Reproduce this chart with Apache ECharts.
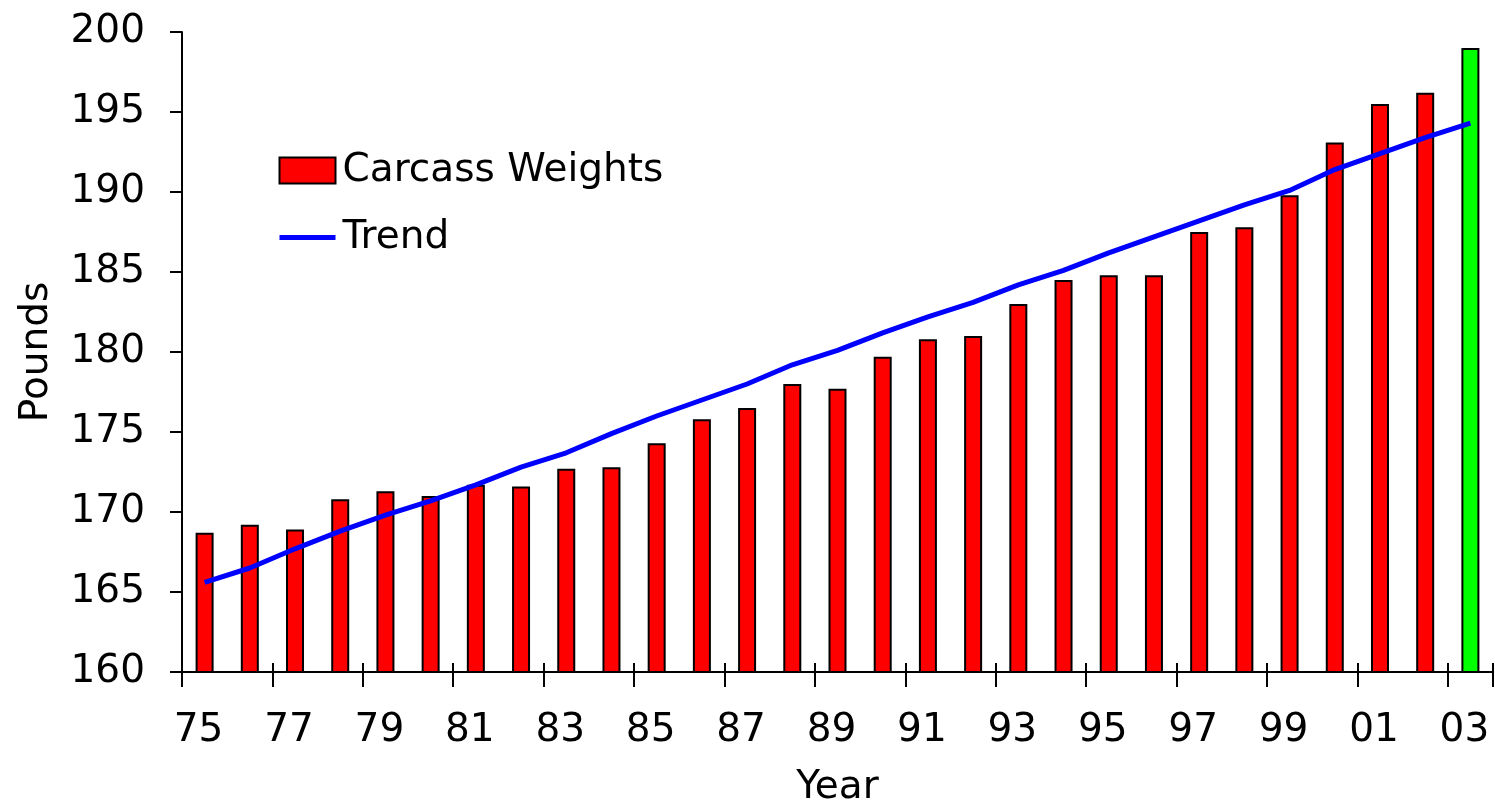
<!DOCTYPE html>
<html>
<head>
<meta charset="utf-8">
<title>Carcass Weights</title>
<script src="https://cdn.jsdelivr.net/npm/echarts@6/dist/echarts.min.js"></script>
<style>
  html, body { margin: 0; padding: 0; background: #fff; }
  #main { width: 1495px; height: 802px; }
</style>
</head>
<body>
<div id="main"></div>
<script>
// years shown as two digits, 1975 - 2003
var years = ['75','76','77','78','79','80','81','82','83','84','85','86','87','88','89',
             '90','91','92','93','94','95','96','97','98','99','00','01','02','03'];
// carcass weights (pounds)
var weights = [168.7,169.2,168.9,170.8,171.3,171.0,171.7,171.6,172.7,172.8,174.3,175.8,176.5,178.0,177.7,
               179.7,180.8,181.0,183.0,184.5,184.8,184.8,187.5,187.8,189.8,193.1,195.5,196.2,199.0];
// trend line values
var trend = [165.6,166.5,167.7,168.8,169.8,170.7,171.7,172.8,173.7,174.9,176.0,177.0,178.0,179.2,180.1,
             181.2,182.2,183.1,184.2,185.1,186.2,187.2,188.2,189.2,190.1,191.4,192.4,193.4,194.3];
var yTicks = [160, 200, 5];

var font = 'DejaVu Sans, Liberation Sans, Arial, sans-serif';
var fs = 39;
var chart = echarts.init(document.getElementById('main'));

// last year (2003) drawn green
var barData = weights.map(function (v, i) {
  if (i === weights.length - 1) return { value: v, itemStyle: { color: '#00ff00' } };
  return v;
});

chart.setOption({
  animation: false,
  backgroundColor: '#fff',
  textStyle: { fontFamily: font, color: '#000' },
  grid: { left: 182, right: 2, top: 32, bottom: 130, outerBoundsMode: 'none' },
  legend: {
    orient: 'vertical',
    left: 272,
    top: 146,
    itemWidth: 56,
    itemHeight: 26,
    itemGap: 28,
    textStyle: { fontSize: fs, fontFamily: font, color: '#000', padding: [0, 0, 0, 2] },
    data: [
      { name: 'Carcass Weights', icon: 'rect' },
      { name: 'Trend', itemStyle: { opacity: 0 }, lineStyle: { width: 5, color: '#0000ff' } }
    ]
  },
  xAxis: [{
    type: 'category',
    data: years,
    boundaryGap: true,
    name: 'Year',
    nameLocation: 'middle',
    nameGap: 96,
    nameTextStyle: { fontSize: fs, fontFamily: font, color: '#000' },
    axisLine: { lineStyle: { color: '#000', width: 2 } },
    axisTick: { show: true, interval: 1, length: 15, lineStyle: { color: '#000', width: 2 } },
    axisLabel: { interval: 1, fontSize: fs, fontFamily: font, color: '#000', margin: 39, padding: [0, 12, 0, 0] },
    splitLine: { show: false }
  }, {
    // second axis on top of the first one gives the crossing tick marks
    type: 'category',
    data: years,
    position: 'bottom',
    boundaryGap: true,
    axisLine: { show: false },
    axisTick: { show: true, inside: true, interval: 1, length: 9, lineStyle: { color: '#000', width: 2 } },
    axisLabel: { show: false },
    splitLine: { show: false }
  }],
  yAxis: {
    type: 'value',
    min: yTicks[0],
    max: yTicks[1],
    interval: yTicks[2],
    name: 'Pounds',
    nameLocation: 'middle',
    nameGap: 126,
    nameTextStyle: { fontSize: fs, fontFamily: font, color: '#000' },
    axisLine: { show: true, lineStyle: { color: '#000', width: 2 } },
    axisTick: { show: true, length: 12, lineStyle: { color: '#000', width: 2 } },
    axisLabel: { fontSize: fs, fontFamily: font, color: '#000', margin: 37 },
    splitLine: { show: false }
  },
  series: [{
    name: 'Carcass Weights',
    type: 'bar',
    barWidth: 18,
    data: barData,
    itemStyle: { color: '#ff0000', borderColor: '#000', borderWidth: 2 }
  }, {
    name: 'Trend',
    type: 'line',
    data: trend,
    symbol: 'none',
    lineStyle: { color: '#0000ff', width: 5 },
    itemStyle: { color: '#0000ff' },
    z: 3
  }]
});
</script>
</body>
</html>
